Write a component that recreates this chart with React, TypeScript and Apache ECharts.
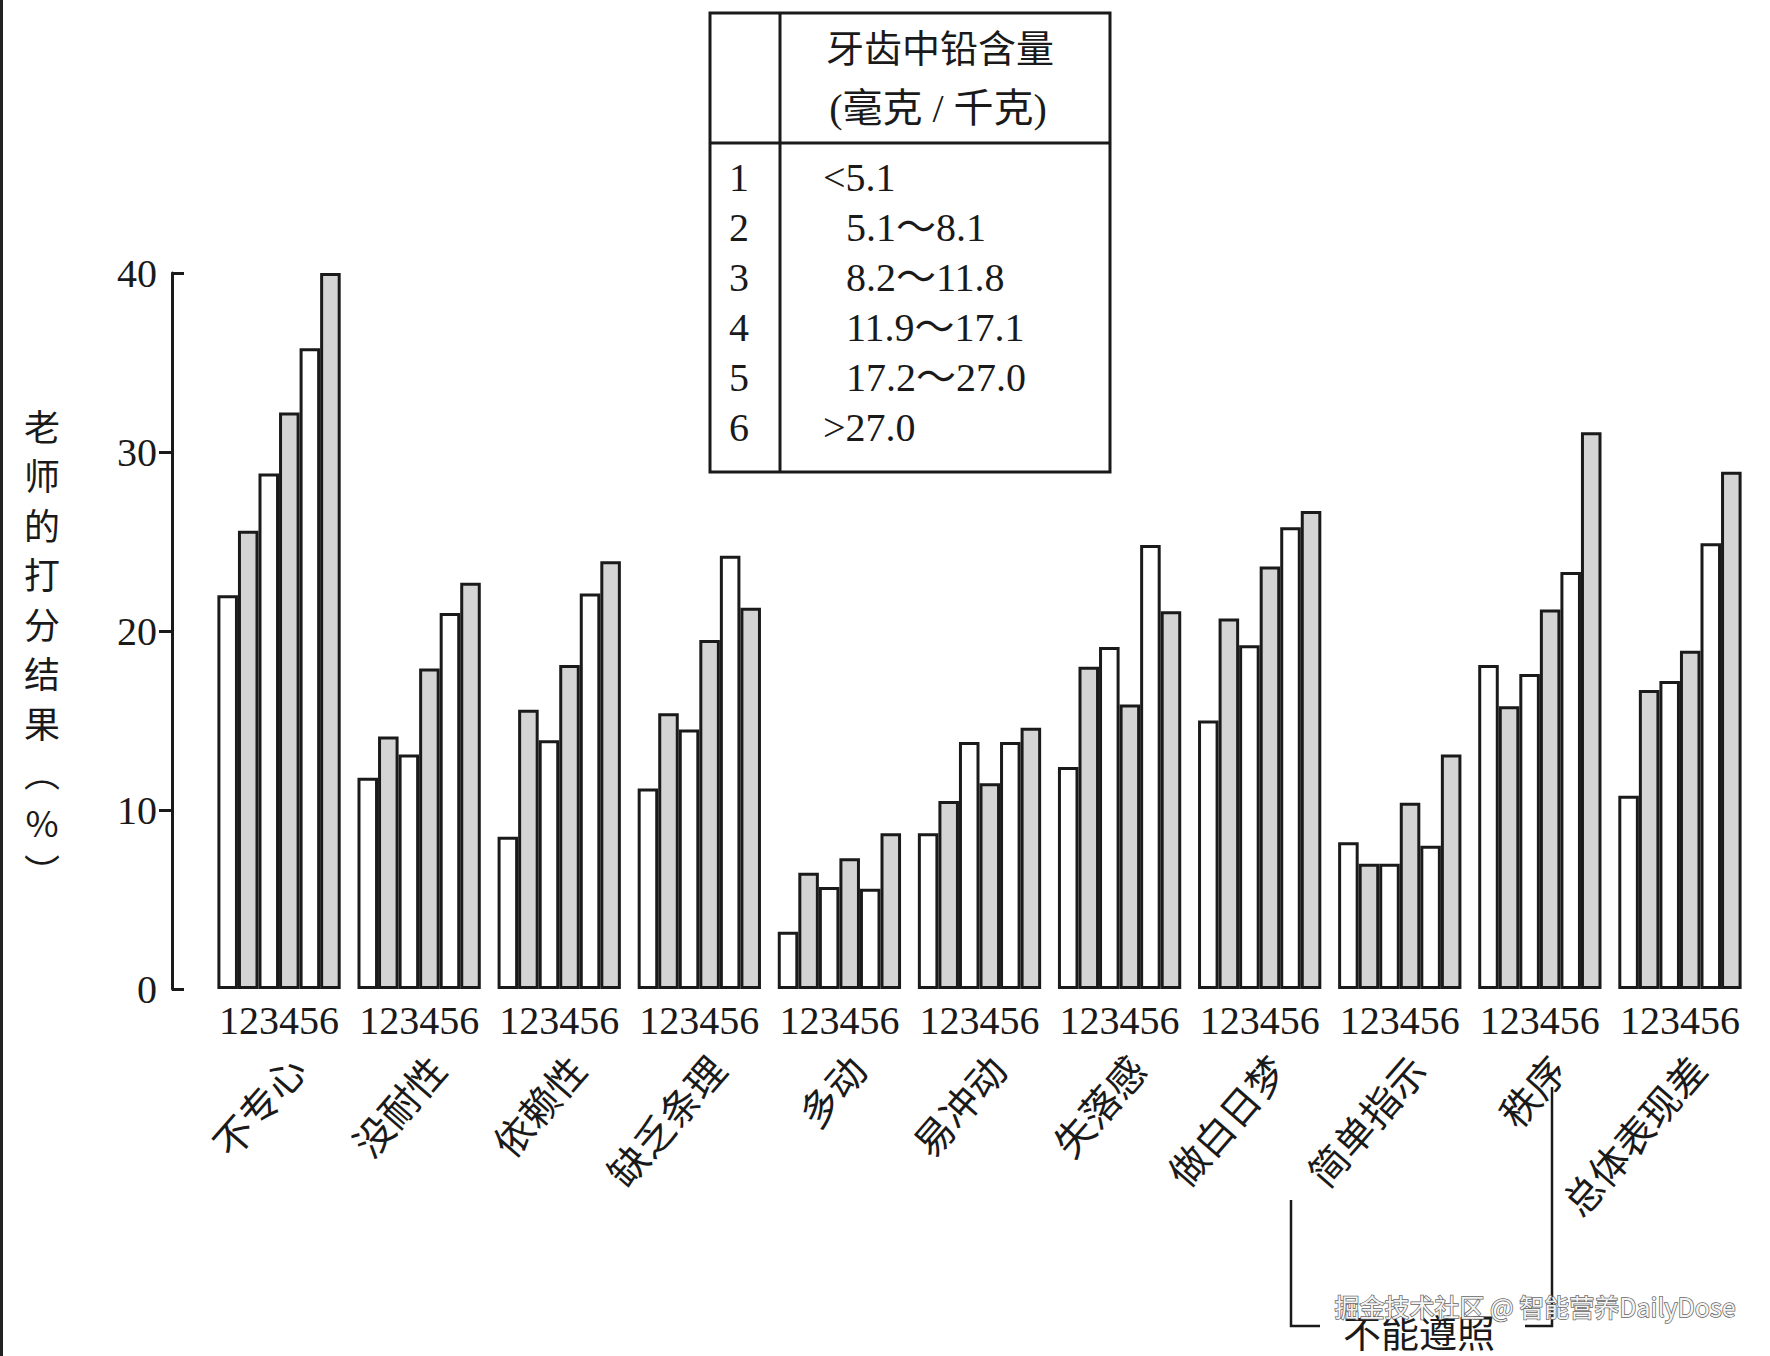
import React, { useEffect, useRef } from "react";
import * as echarts from "echarts";

// ---- data ----
const categories = ["不专心", "没耐性", "依赖性", "缺乏条理", "多动", "易冲动", "失落感", "做白日梦", "简单指示", "秩序", "总体表现差"];
const levelLabels = ["1", "2", "3", "4", "5", "6"];
const leadRanges = ["<5.1", "5.1～8.1", "8.2～11.8", "11.9～17.1", "17.2～27.0", ">27.0"];
const level1 = [22.0, 11.8, 8.5, 11.2, 3.2, 8.7, 12.4, 15.0, 8.2, 18.1, 10.8];
const level2 = [25.6, 14.1, 15.6, 15.4, 6.5, 10.5, 18.0, 20.7, 7.0, 15.8, 16.7];
const level3 = [28.8, 13.1, 13.9, 14.5, 5.7, 13.8, 19.1, 19.2, 7.0, 17.6, 17.2];
const level4 = [32.2, 17.9, 18.1, 19.5, 7.3, 11.5, 15.9, 23.6, 10.4, 21.2, 18.9];
const level5 = [35.8, 21.0, 22.1, 24.2, 5.6, 13.8, 24.8, 25.8, 8.0, 23.3, 24.9];
const level6 = [40.0, 22.7, 23.9, 21.3, 8.7, 14.6, 21.1, 26.7, 13.1, 31.1, 28.9];
const levels = [level1, level2, level3, level4, level5, level6];
const yMin = 0;
const yMax = 40;
const yInterval = 10;
const yOuterTicks = [10, 20, 30];
const yInnerTicks = [0, 40];
const yAxisTitle = ["老", "师", "的", "打", "分", "结", "果", "︵", "%", "︶"];
const tableHeader = ["牙齿中铅含量", "(毫克 / 千克)"];
const bracketLabel = "不能遵照";
const watermark = "掘金技术社区 @ 智能营养DailyDose";

const SERIF = "'Liberation Serif', 'Times New Roman', 'Noto Sans CJK SC', serif";
const CJK = "'Noto Sans CJK SC', sans-serif";
const INK = "#1a1a1a";

export default function App() {
  const ref = useRef<HTMLDivElement>(null);

  useEffect(() => {
    if (!ref.current) return;
    const chart = echarts.init(ref.current, undefined, { renderer: "svg" });

    const tableLeft = 710, tableRight = 1110, tableTop = 13, tableBottom = 472;
    const tableDivX = 780, tableDivY = 143;

    const tableRows: any[] = [];
    levelLabels.forEach((lab, i) => {
      const y = 177 + i * 50;
      tableRows.push({
        type: "text", x: 739, y,
        style: { text: lab, font: `40px ${SERIF}`, fill: INK, textAlign: "center", textVerticalAlign: "middle" },
      });
      const r = leadRanges[i];
      const hang = r.startsWith("<") || r.startsWith(">");
      tableRows.push({
        type: "text", x: hang ? 823 : 846, y,
        style: { text: r, font: `40px ${SERIF}`, fill: INK, textAlign: "left", textVerticalAlign: "middle" },
      });
    });

    const option: any = {
      animation: false,
      backgroundColor: "#ffffff",
      grid: [
        { left: 209, right: 20, top: 273, bottom: 367 },
        { left: 226, right: 3, top: 273, bottom: 367 },
      ],
      xAxis: [
        {
          type: "category", gridIndex: 0, data: categories,
          axisLine: { show: false }, axisTick: { show: false }, splitLine: { show: false },
          axisLabel: {
            interval: 0, margin: 11, fontSize: 40, fontFamily: SERIF, color: INK,
            formatter: () => levelLabels.join(""),
          },
        },
        {
          type: "category", gridIndex: 1, data: categories,
          axisLine: { show: false }, axisTick: { show: false }, splitLine: { show: false },
          axisLabel: { interval: 0, rotate: 49, margin: 72, fontSize: 39, fontFamily: CJK, color: INK },
        },
      ],
      yAxis: [
        {
          type: "value", gridIndex: 0, position: "left", offset: 37,
          min: yMin, max: yMax, interval: yInterval,
          axisLine: { show: true, lineStyle: { color: INK, width: 3 } },
          axisTick: { show: true, inside: false, length: 13, customValues: yOuterTicks, lineStyle: { color: INK, width: 3 } },
          axisLabel: { margin: 15, fontSize: 40, fontFamily: SERIF, color: INK },
          splitLine: { show: false },
        },
        {
          type: "value", gridIndex: 0, position: "left", offset: 37,
          min: yMin, max: yMax, interval: yInterval,
          axisLine: { show: false },
          axisTick: { show: true, inside: true, length: 12, customValues: yInnerTicks, lineStyle: { color: INK, width: 3 } },
          axisLabel: { show: false },
          splitLine: { show: false },
        },
        { type: "value", gridIndex: 1, min: yMin, max: yMax, show: false },
      ],
      series: levels.map((d, i) => ({
        type: "bar",
        name: levelLabels[i],
        xAxisIndex: 0,
        yAxisIndex: 0,
        data: d,
        barGap: "0%",
        barCategoryGap: "12%",
        silent: true,
        itemStyle: { color: i % 2 === 1 ? "#d4d4d4" : "#ffffff", borderColor: INK, borderWidth: 3 },
      })),
      graphic: [
        { type: "rect", shape: { x: 0, y: 0, width: 3, height: 1356 }, style: { fill: "#222" } },
        {
          type: "text", x: 42, y: 400,
          style: {
            text: yAxisTitle.join("\n"), font: `36px ${CJK}`, lineHeight: 49.5,
            fill: INK, textAlign: "center", textVerticalAlign: "top",
          },
        },
        {
          type: "rect", shape: { x: tableLeft, y: tableTop, width: tableRight - tableLeft, height: tableBottom - tableTop },
          style: { fill: "#fff", stroke: INK, lineWidth: 3 },
        },
        { type: "line", shape: { x1: tableDivX, y1: tableTop, x2: tableDivX, y2: tableBottom }, style: { stroke: INK, lineWidth: 3 } },
        { type: "line", shape: { x1: tableLeft, y1: tableDivY, x2: tableRight, y2: tableDivY }, style: { stroke: INK, lineWidth: 3 } },
        {
          type: "text", x: 940, y: 45,
          style: { text: tableHeader[0], font: `38px ${CJK}`, fill: INK, textAlign: "center", textVerticalAlign: "middle" },
        },
        {
          type: "text", x: 938, y: 108,
          style: { text: tableHeader[1], font: `40px ${SERIF}`, fill: INK, textAlign: "center", textVerticalAlign: "middle" },
        },
        ...tableRows,
        {
          type: "polyline", shape: { points: [[1320, 1326], [1291, 1326], [1291, 1200]] },
          style: { stroke: INK, lineWidth: 2.5, fill: "none" },
        },
        {
          type: "polyline", shape: { points: [[1525, 1326], [1552, 1326], [1552, 1087]] },
          style: { stroke: INK, lineWidth: 2.5, fill: "none" },
        },
        {
          type: "text", x: 1419, y: 1330,
          style: { text: bracketLabel, font: `38px ${CJK}`, fill: INK, textAlign: "center", textVerticalAlign: "middle" },
        },
        {
          type: "text", x: 1535, y: 1306,
          style: {
            text: watermark, font: `25px ${CJK}`, fill: "#f4f4f4",
            stroke: "#666", lineWidth: 1.5, textAlign: "center", textVerticalAlign: "middle",
          },
        },
      ],
    };

    chart.setOption(option);
    return () => chart.dispose();
  }, []);

  return (
    <div
      ref={ref}
      style={{ position: "absolute", left: 0, top: 0, width: 1770, height: 1356, background: "#fff" }}
    />
  );
}
